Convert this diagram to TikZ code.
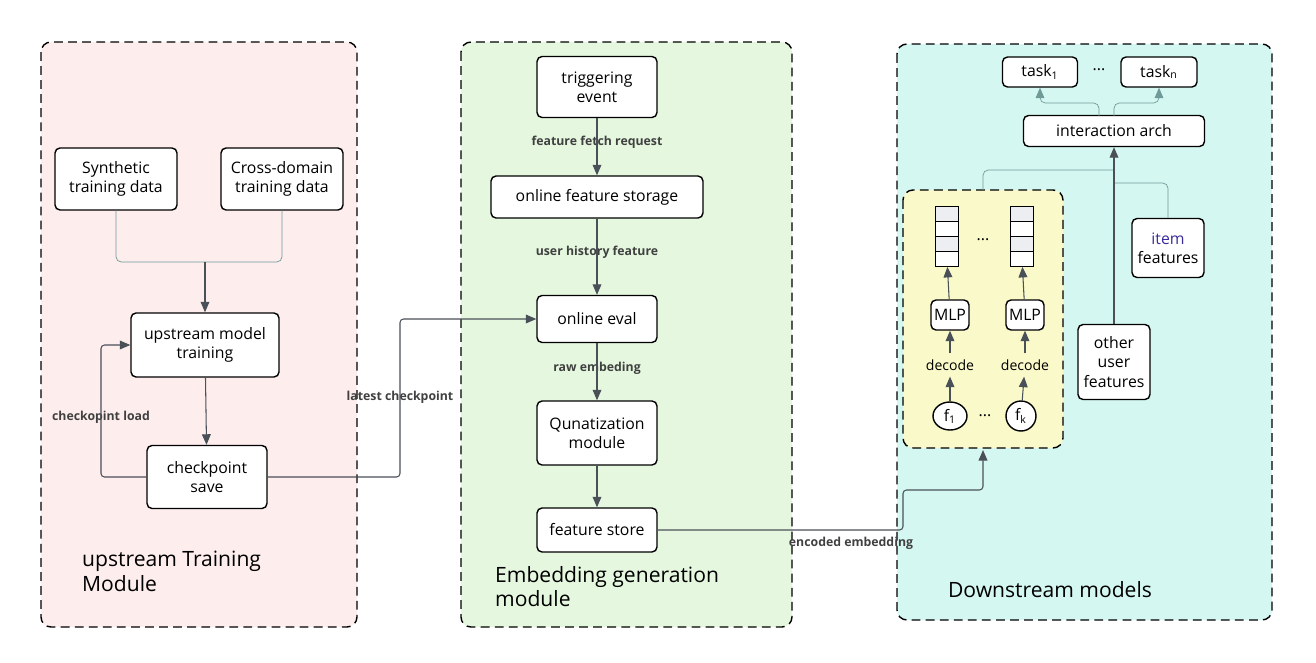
\documentclass[tikz,border=0pt]{standalone}
\usepackage{fontspec}
\setmainfont{Open Sans}
\usetikzlibrary{shapes.geometric,arrows.meta}
\definecolor{pinkbg}{HTML}{FDEDED}
\definecolor{greenbg}{HTML}{E5F8DF}
\definecolor{cyanbg}{HTML}{D5F7F1}
\definecolor{yellowbg}{HTML}{FAF9C9}
\definecolor{wire}{HTML}{4A5058}
\definecolor{tealwire}{HTML}{6F9A98}
\definecolor{itemblue}{HTML}{3A2C9C}
\definecolor{cellgray}{HTML}{ECEEF1}

\begin{document}
\begin{tikzpicture}[x=0.02cm,y=-0.02cm,font=\small]
	% `panel' is used for the dashed module boxes.
	% `block' is used for the rounded boxes inside them.
	\tikzstyle{panel} = [draw=black,thick,rounded corners=2mm,dash pattern=on 5pt off 3pt]
	\tikzstyle{block} = [draw=black,thick,fill=white,rounded corners=1mm,align=center,inner sep=2pt]
	\tikzstyle{tag} = [font=\scriptsize\bfseries,text=black!75]
	\tikzstyle{wire} = [draw=wire,semithick,-{Triangle[length=6pt,width=5pt]},rounded corners=2pt]
	\tikzstyle{link} = [draw=tealwire,line width=0.4pt,rounded corners=3pt]
	%
	\useasboundingbox (0,0) rectangle (1316,663);
	% Panels.
	\draw[panel,fill=pinkbg] (41,42) rectangle (357,627);
	\draw[panel,fill=greenbg] (461,42) rectangle (792,627);
	\draw[panel,fill=cyanbg] (897,44) rectangle (1272,620);
	\draw[panel,fill=yellowbg] (903,190) rectangle (1063,448);
	% First panel.
	\node[block,minimum width=2.44cm,minimum height=1.24cm] (syn) at (116,179) {Synthetic\\training data};
	\node[block,minimum width=2.44cm,minimum height=1.24cm] (cross) at (282,179) {Cross-domain\\training data};
	\node[block,minimum width=2.96cm,minimum height=1.28cm] (upm) at (205,345) {upstream model\\training};
	\node[block,minimum width=2.4cm,minimum height=1.26cm] (ckp) at (207,477) {checkpoint\\save};
	\node[tag] (lload) at (101,417) {checkopint load};
	\node[tag] (llatest) at (400,397) {latest checkpoint};
	\node[anchor=north west,align=left,font=\large] (mod1) at (76,545) {upstream Training\\Module};
	% Second panel.
	\node[block,minimum width=2.4cm,minimum height=1.22cm] (trig) at (597,87) {triggering\\event};
	\node[block,minimum width=4.24cm,minimum height=0.84cm] (ofs) at (597,197) {online feature storage};
	\node[block,minimum width=2.4cm,minimum height=0.94cm] (eval) at (597,319) {online eval};
	\node[block,minimum width=2.4cm,minimum height=1.28cm] (quant) at (597,433) {Qunatization\\module};
	\node[block,minimum width=2.4cm,minimum height=0.88cm] (fstore) at (597,530) {feature store};
	\node[tag] (lfetch) at (597,142) {feature fetch request};
	\node[tag] (lhist) at (597,252) {user history feature};
	\node[tag] (lraw) at (597,368) {raw embeding};
	\node[tag] (lenc) at (851,543) {encoded embedding};
	\node[anchor=north west,align=left,font=\large] (mod2) at (489,560) {Embedding generation\\module};
	% Third panel.
	\node[block,minimum width=1.5cm,minimum height=0.6cm] (task1) at (1040,72) {task\textsubscript{1}};
	\node[block,minimum width=1.52cm,minimum height=0.6cm] (taskn) at (1159,72) {task\textsubscript{n}};
	\node (tdots) at (1099,70) {...};
	\node[block,minimum width=3.62cm,minimum height=0.62cm] (ia) at (1114,131) {interaction arch};
	\node[block,minimum width=1.44cm,minimum height=1.18cm] (item) at (1168,248) {\textcolor{itemblue}{item}\\features};
	\node[block,minimum width=1.44cm,minimum height=1.5cm] (other) at (1114,362) {other\\user\\features};
	\node[font=\large] (mod3) at (1050,590) {Downstream models};
	% Decoder stacks.
	\foreach \n/\x in {1/947,k/1022}{
		\foreach \i/\c in {0/cellgray,1/white,2/cellgray,3/white}
			\node[draw=black,line width=0.4pt,fill=\c,minimum width=0.46cm,minimum height=0.3cm,inner sep=0pt] (cell\n\i) at (\x,214+\i*15) {};
		\node[block,minimum width=0.76cm,minimum height=0.6cm,inner sep=1pt] (mlp\n) at (\x+3,315) {MLP};
		\node[font=\footnotesize] (dec\n) at (\x+3,365) {decode};
	}
	\node[draw=black,thick,fill=white,ellipse,minimum width=0.68cm,minimum height=0.56cm,inner sep=0pt] (f1) at (950,416) {f\textsubscript{1}};
	\node[draw=black,thick,fill=white,circle,minimum size=0.6cm,inner sep=0pt] (fk) at (1021,416) {f\textsubscript{k}};
	\node (sdots) at (983,240) {...};
	\node (fdots) at (985,416) {...};
	% First panel connectors.
	\draw[link] (syn.south) |- (205,262);
	\draw[link] (cross.south) |- (205,262);
	\draw[wire] (205,262) -- (upm.north);
	\draw[wire] (upm) -- (ckp);
	\draw[wire] (ckp.west) -| (101,345) -- (upm.west);
	\draw[wire] (ckp.east) -| (400,319) -- (eval.west);
	% Second panel connectors.
	\draw[wire] (trig) -- (ofs);
	\draw[wire] (ofs) -- (eval);
	\draw[wire] (eval) -- (quant);
	\draw[wire] (quant) -- (fstore);
	\draw[wire] (fstore.east) -| (903,490) -- (983,490) -- (983,450);
	% Third panel connectors.
	\foreach \n in {1,k}{
		\draw[wire] (mlp\n) -- (cell\n3);
		\draw[wire] (dec\n) -- (mlp\n);
	}
	\draw[wire] (f1) -- (dec1);
	\draw[wire] (fk) -- (deck);
	\draw[link] (983,190) |- (1114,170);
	\draw[link] (item.north) |- (1114,183);
	\draw[wire] (other.north) -- (ia.south);
	\draw[link,-{Triangle[length=6pt,width=5pt]}] (1099,116) |- (1040,103) -- (task1.south);
	\draw[link,-{Triangle[length=6pt,width=5pt]}] (1114,116) |- (1159,103) -- (taskn.south);
\end{tikzpicture}
\end{document}
